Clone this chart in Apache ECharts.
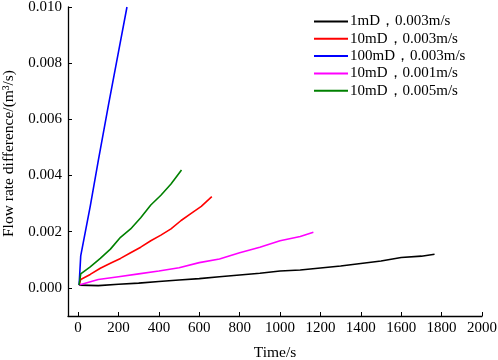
<!DOCTYPE html>
<html>
<head>
<meta charset="utf-8">
<script src="https://cdn.jsdelivr.net/npm/echarts@6/dist/echarts.min.js"></script>
<style>
  html, body { margin: 0; padding: 0; background: #fff; }
  #chart { width: 498px; height: 360px; }
</style>
</head>
<body>
<div id="chart"></div>
<script>
  // values
  var names = ['1mD，0.003m/s', '10mD，0.003m/s', '100mD，0.003m/s', '10mD，0.001m/s', '10mD，0.005m/s']
  var colors = ['#000000', '#ff0000', '#0000ff', '#ff00ff', '#008000']

  var xBlack = [5, 13, 100, 200, 300, 400, 500, 600, 700, 800, 900, 1000, 1100, 1200, 1300, 1400, 1500, 1600, 1700, 1765]
  var yBlack = [0.0001, 0.00005, 0.00008, 0.00013, 0.00017, 0.00023, 0.00028, 0.00033, 0.0004, 0.00046, 0.00052, 0.0006, 0.00064, 0.00071, 0.00078, 0.00087, 0.00096, 0.00108, 0.00113, 0.0012]

  var xRed = [5, 13, 60, 110, 160, 210, 260, 310, 360, 410, 460, 510, 560, 610, 662]
  var yRed = [0.0001, 0.0003, 0.00048, 0.0007, 0.00088, 0.00105, 0.00125, 0.00145, 0.00168, 0.00188, 0.0021, 0.0024, 0.00265, 0.0029, 0.00325]

  var xBlue = [5, 13, 60, 100, 150, 200, 242]
  var yBlue = [0.0001, 0.00114, 0.0029, 0.00453, 0.0065, 0.0084, 0.0100]

  var xPink = [5, 13, 100, 200, 300, 400, 500, 600, 700, 800, 900, 1000, 1100, 1165]
  var yPink = [0.0001, 0.00012, 0.0003, 0.0004, 0.0005, 0.0006, 0.00072, 0.0009, 0.00103, 0.00125, 0.00145, 0.00168, 0.00183, 0.00198]

  var xGreen = [5, 13, 60, 110, 160, 210, 260, 310, 360, 410, 460, 512]
  var yGreen = [0.0001, 0.0005, 0.00075, 0.00105, 0.00138, 0.0018, 0.0021, 0.0025, 0.00295, 0.0033, 0.0037, 0.0042]

  var xTicks = [0, 200, 400, 600, 800, 1000, 1200, 1400, 1600, 1800, 2000]
  var yTicks = [0, 0.002, 0.004, 0.006, 0.008, 0.010]

  var xs = [xBlack, xRed, xBlue, xPink, xGreen]
  var ys = [yBlack, yRed, yBlue, yPink, yGreen]

  var font = '"Liberation Serif", "Times New Roman", serif'

  var series = []
  for (var i = 0; i < names.length; i++) {
    var pts = []
    for (var j = 0; j < xs[i].length; j++) pts.push([xs[i][j], ys[i][j]])
    series.push({
      name: names[i],
      type: 'line',
      data: pts,
      symbol: 'none',
      lineStyle: { color: colors[i], width: 1.6 },
      itemStyle: { color: colors[i] }
    })
  }

  var chart = echarts.init(document.getElementById('chart'))
  chart.setOption({
    animation: false,
    grid: { left: 68, right: 16, top: 7, bottom: 44, containLabel: false, outerBoundsMode: 'none' },
    legend: {
      orient: 'vertical',
      left: 314,
      top: 14,
      padding: 0,
      icon: 'rect',
      itemWidth: 34,
      itemHeight: 2,
      itemGap: 2.3,
      textStyle: { fontFamily: font, fontSize: 15, color: '#000', padding: [0, 0, 0, -3] },
      data: names
    },
    xAxis: {
      type: 'value',
      min: -50,
      max: 2000,
      name: 'Time/s',
      nameLocation: 'middle',
      nameGap: 29,
      nameTextStyle: { fontFamily: font, fontSize: 15.5, color: '#000' },
      axisLine: { onZero: false, lineStyle: { color: '#000', width: 1.3 } },
      axisTick: { inside: true, length: 4, customValues: xTicks, lineStyle: { color: '#000' } },
      axisLabel: {
        customValues: xTicks,
        margin: 5,
        fontFamily: font,
        fontSize: 15,
        color: '#000',
        formatter: function (v) { return String(v) }
      },
      splitLine: { show: false }
    },
    yAxis: {
      type: 'value',
      min: -0.001,
      max: 0.010,
      name: 'Flow rate difference/(m³/s)',
      nameLocation: 'middle',
      nameGap: 48,
      nameTextStyle: { fontFamily: font, fontSize: 15.5, color: '#000', padding: [0, 0, 0, 16] },
      axisLine: { show: true, onZero: false, lineStyle: { color: '#000', width: 1.3 } },
      axisTick: { show: true, inside: true, length: 4, customValues: yTicks, lineStyle: { color: '#000' } },
      axisLabel: {
        customValues: yTicks,
        margin: 6,
        fontFamily: font,
        fontSize: 15,
        color: '#000',
        formatter: function (v) { return v.toFixed(3) }
      },
      splitLine: { show: false }
    },
    series: series
  })
</script>
</body>
</html>
